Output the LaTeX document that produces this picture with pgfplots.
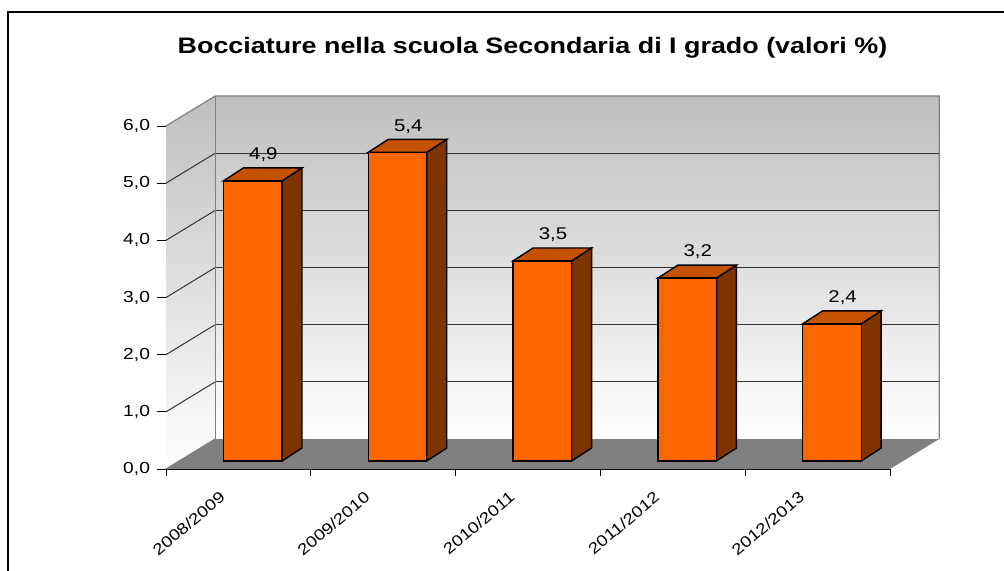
\documentclass[border=0pt]{standalone}
\usepackage{pgfplots}
\pgfplotsset{compat=1.18}
\usepackage{pgfplotstable}
\usepackage{fontspec}
\setmainfont{Liberation Sans}[FakeStretch=1.2]
\definecolor{barfront}{HTML}{FF6600}
\definecolor{bartop}{HTML}{C45200}
\definecolor{barside}{HTML}{7F3300}
\definecolor{floorgray}{HTML}{808080}
\definecolor{walltop}{HTML}{BFBFBF}
\definecolor{edgegray}{HTML}{808080}

\pgfplotstableread{
i v
0 4.9
1 5.4
2 3.5
3 3.2
4 2.4
}\datatable

\begin{document}
\begin{tikzpicture}
\begin{axis}[
  at={(0pt,0pt)}, anchor=south west,
  scale only axis, width=362pt, height=171.5pt,
  xmin=-0.5, xmax=4.5, ymin=0, ymax=6,
  clip=false,
  axis x line*=bottom, axis y line*=left,
  axis line style={black, line width=0.5pt},
  /pgf/number format/assume math mode=true,
  ytick={0,1,...,6},
  yticklabel style={font=\fontsize{8}{9}\selectfont, black, /pgf/number format/.cd, fixed, fixed zerofill, precision=1, use comma},
  xtick={0,1,2,3,4},
  xticklabels={2008/2009,2009/2010,2010/2011,2011/2012,2012/2013},
  minor xtick={-0.5,0.5,1.5,2.5,3.5,4.5},
  major x tick style={draw=none},
  minor x tick style={black, line width=0.5pt},
  ytick style={black, line width=0.5pt},
  tick align=outside,
  major tick length=4.5pt,
  minor tick length=3.5pt,
  xticklabel style={font=\fontsize{7.8}{9}\selectfont, black, xshift=-5.25pt, yshift=-6.2pt, rotate=40, anchor=east},
]
% back wall
\shade[top color=walltop, bottom color=white, draw=none]
  (axis cs:-0.16,0.525) rectangle (axis cs:4.84,6.525);
% floor
\fill[floorgray] (axis cs:-0.5,0) -- (axis cs:4.5,0) -- (axis cs:4.84,0.525) -- (axis cs:-0.16,0.525) -- cycle;
% side wall
\shade[top color=walltop, bottom color=white, draw=none]
  (axis cs:-0.5,0) -- (axis cs:-0.5,6) -- (axis cs:-0.16,6.525) -- (axis cs:-0.16,0.525) -- cycle;
% gridlines
\draw[black!80, line width=0.5pt] (axis cs:-0.16,1.525) -- (axis cs:4.84,1.525);
\draw[black!80, line width=0.5pt] (axis cs:-0.16,2.525) -- (axis cs:4.84,2.525);
\draw[black!80, line width=0.5pt] (axis cs:-0.16,3.525) -- (axis cs:4.84,3.525);
\draw[black!80, line width=0.5pt] (axis cs:-0.16,4.525) -- (axis cs:4.84,4.525);
\draw[black!80, line width=0.5pt] (axis cs:-0.16,5.525) -- (axis cs:4.84,5.525);
\draw[black!80, line width=0.5pt] (axis cs:-0.5,1) -- (axis cs:-0.16,1.525);
\draw[black!80, line width=0.5pt] (axis cs:-0.5,2) -- (axis cs:-0.16,2.525);
\draw[black!80, line width=0.5pt] (axis cs:-0.5,3) -- (axis cs:-0.16,3.525);
\draw[black!80, line width=0.5pt] (axis cs:-0.5,4) -- (axis cs:-0.16,4.525);
\draw[black!80, line width=0.5pt] (axis cs:-0.5,5) -- (axis cs:-0.16,5.525);
% wall edges
\draw[edgegray, line width=0.6pt] (axis cs:-0.5,6) -- (axis cs:-0.16,6.525) -- (axis cs:4.84,6.525) -- (axis cs:4.84,0.525);
\draw[edgegray, line width=0.6pt] (axis cs:-0.16,6.525) -- (axis cs:-0.16,0.525);
\draw[edgegray, line width=0.6pt] (axis cs:-0.5,0) -- (axis cs:-0.16,0.525);

% bar top and side faces
\pgfplotsforeachungrouped \i/\v in {0/4.9,1/5.4,2/3.5,3/3.2,4/2.4}{
  \pgfmathsetmacro\xa{\i-0.103}
  \pgfmathsetmacro\xb{\i+0.301}
  \pgfmathsetmacro\xc{\i+0.439}
  \pgfmathsetmacro\xd{\i+0.035}
  \pgfmathsetmacro\yt{0.14+\v}
  \pgfmathsetmacro\ytt{0.367+\v}
  \edef\tmp{\noexpand\addplot[fill=barside, draw=black, line width=0.7pt] coordinates {(\xb,0.14) (\xc,0.367) (\xc,\ytt) (\xb,\yt)} -- cycle;
  \noexpand\addplot[fill=bartop, draw=black, line width=0.7pt] coordinates {(\xa,\yt) (\xb,\yt) (\xc,\ytt) (\xd,\ytt)} -- cycle;}
  \tmp
}
% bar front faces
\addplot[ybar, bar width=0.404, bar shift=0.099, fill=barfront, draw=black, line width=0.7pt, yshift=4pt,
  nodes near coords,
  nodes near coords style={font=\fontsize{8.5}{10}\selectfont, black, anchor=center, xshift=12.5pt, yshift=13pt},
  /pgf/number format/fixed, /pgf/number format/fixed zerofill, /pgf/number format/precision=1, /pgf/number format/use comma,
] table[x=i, y=v] {\datatable};

\node[font=\fontsize{11.2}{13}\selectfont\bfseries, anchor=base] at (axis cs:2.031,7.271)
  {Bocciature nella scuola Secondaria di I grado (valori \%)};
\end{axis}
\pgfresetboundingbox
\useasboundingbox (-83pt,-50.5pt) rectangle (419pt,234.5pt);
\draw[black, line width=1pt] (-79pt,-70pt) -- (-79pt,228.5pt) -- (440pt,228.5pt);
\end{tikzpicture}
\end{document}
